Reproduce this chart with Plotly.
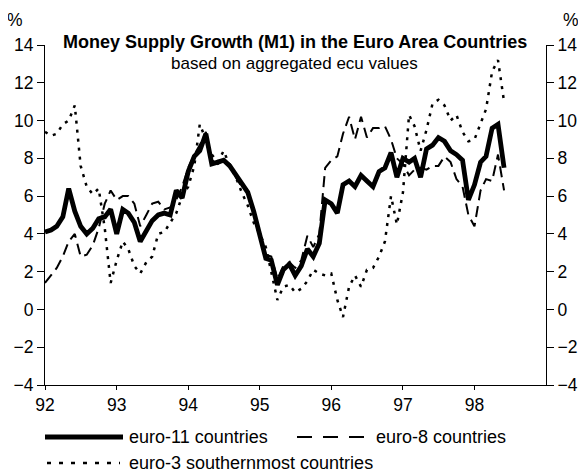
import pandas as pd
import plotly.graph_objects as go

# Monthly observations, Jan 1992 .. Jun 1998 (annual growth, %)
months = pd.date_range("1992-01-01", periods=78, freq="MS")

euro11 = [4.1, 4.2, 4.4, 4.9, 6.4, 5.2, 4.4, 4.0, 4.3, 4.8, 4.9, 5.3,
          4.0, 5.3, 5.1, 4.6, 3.6, 4.1, 4.7, 5.0, 5.1, 5.0, 6.3, 5.9,
          7.3, 8.1, 8.4, 9.3, 7.7, 7.8, 7.9, 7.6, 7.1, 6.6, 6.2, 5.2,
          4.0, 2.7, 2.6, 1.3, 2.1, 2.4, 1.8, 2.3, 3.2, 2.8, 3.5, 5.8,
          5.6, 5.1, 6.6, 6.8, 6.5, 7.1, 6.8, 6.5, 7.3, 7.5, 8.3, 7.0,
          8.0, 7.8, 8.0, 7.0, 8.5, 8.7, 9.1, 8.9, 8.4, 8.2, 7.9, 5.8,
          6.6, 7.8, 8.1, 9.6, 9.8, 7.5]

euro8 = [1.4, 1.8, 2.2, 2.8, 3.6, 4.0, 2.8, 2.9, 3.4, 4.3, 5.6, 6.3,
         5.8, 6.0, 6.0, 5.6, 4.4, 5.0, 5.6, 5.7, 5.3, 5.4, 5.8, 6.5,
         7.5, 8.2, 8.7, 9.4, 7.9, 7.7, 7.9, 7.7, 7.0, 6.5, 6.2, 5.0,
         3.9, 2.9, 2.8, 1.6, 2.3, 2.5, 2.2, 2.6, 3.9, 3.3, 4.0, 7.5,
         7.9, 8.1, 9.3, 10.2, 9.0, 10.2, 9.1, 9.6, 9.6, 9.7, 9.0, 8.0,
         7.7, 7.1, 7.4, 7.5, 7.4, 7.6, 7.6, 8.1, 7.8, 6.9, 6.5, 5.0,
         4.4, 6.3, 6.9, 6.8, 8.2, 6.3]

euro3 = [9.4, 9.2, 9.3, 9.8, 10.0, 10.8, 7.6, 6.5, 6.1, 6.4, 4.3, 1.4,
         2.6, 3.6, 3.2, 2.3, 1.9, 2.5, 2.8, 4.0, 4.1, 4.6, 5.1, 6.0,
         6.5, 7.6, 9.8, 9.0, 8.2, 7.8, 8.4, 7.6, 7.0, 6.2, 5.5, 4.6,
         4.0, 3.3, 1.9, 0.5, 1.2, 1.3, 0.9, 1.1, 1.5, 2.1, 1.9, 1.8,
         1.9, 0.5, -0.4, 1.2, 1.8, 1.2, 2.1, 2.2, 2.8, 3.6, 6.0, 4.5,
         6.2, 10.3, 9.7, 8.4, 9.5, 10.9, 11.1, 10.8, 10.0, 10.3, 9.4, 8.9,
         9.0, 9.9, 10.6, 12.6, 13.2, 11.0]

year_ticks = ["1992-01-01", "1993-01-01", "1994-01-01", "1995-01-01",
              "1996-01-01", "1997-01-01", "1998-01-01"]
year_labels = ["92", "93", "94", "95", "96", "97", "98"]
y_ticks = [-4, -2, 0, 2, 4, 6, 8, 10, 12, 14]

FONT = "Liberation Sans, Arial, Helvetica, sans-serif"

fig = go.Figure()
fig.add_trace(go.Scatter(x=months, y=euro3, mode="lines",
                         line=dict(color="black", width=2.5, dash="3px,6px"),
                         name="euro-3 southernmost countries", showlegend=False))
fig.add_trace(go.Scatter(x=months, y=euro8, mode="lines",
                         line=dict(color="black", width=2, dash="11px,6px"),
                         name="euro-8 countries", showlegend=False))
fig.add_trace(go.Scatter(x=months, y=euro11, mode="lines",
                         line=dict(color="black", width=4.8),
                         name="euro-11 countries", showlegend=False))
# empty trace so that the right-hand axis is drawn
fig.add_trace(go.Scatter(x=[], y=[], yaxis="y2", showlegend=False, hoverinfo="skip"))

# page body has an 8px margin; lay out in window pixels and compensate
OFF = 8
W, H = 586 - OFF, 474 - OFF
PL, PR, PT, PB = 45, 546, 45, 385          # plot area in window pixels
L, T = PL - OFF, PT - OFF
R, B = W - (PR - OFF), H - (PB - OFF)
pw, ph = PR - PL, PB - PT

def px(x):
    return (x - PL) / pw

def py(y):
    return (PB - y) / ph

TICKSIZE = 17.5
axis_common = dict(range=[-4, 14], tickvals=y_ticks, ticks="outside", ticklen=7,
                   tickcolor="black", showline=True, linecolor="black", linewidth=1,
                   showgrid=False, zeroline=False,
                   tickfont=dict(family=FONT, size=TICKSIZE, color="black"))

fig.update_layout(
    width=W, height=H,
    margin=dict(l=L, r=R, t=T, b=B, autoexpand=False),
    paper_bgcolor="white", plot_bgcolor="white",
    showlegend=False,
    xaxis=dict(type="date", range=["1992-01-01", "1999-01-01"],
               tickvals=year_ticks, ticktext=year_labels,
               ticks="outside", ticklen=4, tickcolor="black",
               showline=True, linecolor="black", linewidth=1,
               showgrid=False, zeroline=False,
               tickfont=dict(family=FONT, size=TICKSIZE, color="black")),
    yaxis=dict(**axis_common, side="left"),
    yaxis2=dict(**axis_common, side="right", overlaying="y"),
)

LEGSIZE = 18
shapes = []
annotations = []
y1, y2 = 437, 463
shapes.append(dict(type="line", xref="paper", yref="paper", x0=px(45), x1=px(123),
                   y0=py(y1), y1=py(y1), line=dict(color="black", width=4.8)))
annotations.append(dict(xref="paper", yref="paper", x=px(127), y=py(y1), xanchor="left",
                        yanchor="middle", showarrow=False, text="euro-11 countries",
                        font=dict(family=FONT, size=LEGSIZE, color="black")))
shapes.append(dict(type="line", xref="paper", yref="paper", x0=px(297), x1=px(365),
                   y0=py(y1), y1=py(y1), line=dict(color="black", width=2, dash="15px,11px")))
annotations.append(dict(xref="paper", yref="paper", x=px(374), y=py(y1), xanchor="left",
                        yanchor="middle", showarrow=False, text="euro-8 countries",
                        font=dict(family=FONT, size=LEGSIZE, color="black")))
shapes.append(dict(type="line", xref="paper", yref="paper", x0=px(47), x1=px(120),
                   y0=py(y2), y1=py(y2), line=dict(color="black", width=2.5, dash="4px,8px")))
annotations.append(dict(xref="paper", yref="paper", x=px(127), y=py(y2), xanchor="left",
                        yanchor="middle", showarrow=False, text="euro-3 southernmost countries",
                        font=dict(family=FONT, size=LEGSIZE, color="black")))
# titles
annotations.append(dict(xref="paper", yref="paper", x=px(295), y=py(42), xanchor="center",
                        yanchor="middle", showarrow=False,
                        text="<b>Money Supply Growth (M1) in the Euro Area Countries</b>",
                        font=dict(family=FONT, size=18, color="black")))
annotations.append(dict(xref="paper", yref="paper", x=px(294), y=py(63), xanchor="center",
                        yanchor="middle", showarrow=False,
                        text="based on aggregated ecu values",
                        font=dict(family=FONT, size=17, color="black")))
# % units
annotations.append(dict(xref="paper", yref="paper", x=px(15), y=py(20), xanchor="center",
                        yanchor="middle", showarrow=False, text="%",
                        font=dict(family=FONT, size=TICKSIZE, color="black")))
annotations.append(dict(xref="paper", yref="paper", x=px(571), y=py(20), xanchor="center",
                        yanchor="middle", showarrow=False, text="%",
                        font=dict(family=FONT, size=TICKSIZE, color="black")))

fig.update_layout(shapes=shapes, annotations=annotations)
fig.write_html("out.html")
